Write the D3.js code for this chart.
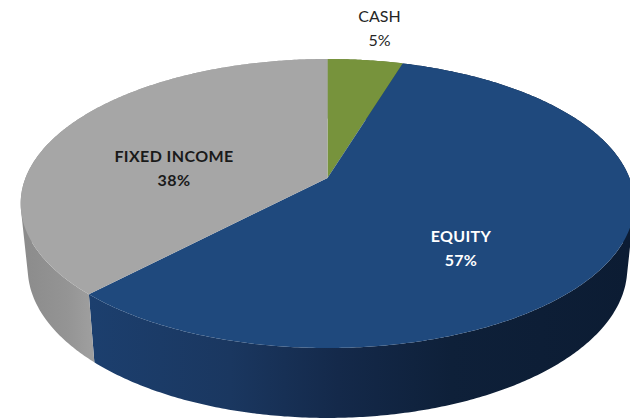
<!DOCTYPE html>
<html>
<head>
<meta charset="utf-8">
<script src="https://cdnjs.cloudflare.com/ajax/libs/d3/7.8.5/d3.min.js"></script>
<style>
  html, body { margin: 0; padding: 0; background: #fff; }
  svg { display: block; }
  text { font-family: Lato, "Open Sans", sans-serif; text-anchor: middle; }
</style>
</head>
<body>
<div id="chart"></div>
<script>
const categories = ["CASH", "EQUITY", "FIXED INCOME"];
// the labels are the rounded numbers
const values = [4.7, 57.4, 37.9];
const labels = ["5%", "57%", "38%"];
const topColors = ["#77933c", "#1f497d", "#a6a6a6"];

const w = 630, h = 419;
const svg = d3.select("#chart").append("svg").attr("width", w).attr("height", h);

// perspective of the tilted disc, apex of the slices is not the middle of the ellipse
const apexX = 327.5, apexY = 178;
const scaleX = 302, scaleY = 140, persp = -0.1765;
// bottom disc is the top one moved down and a bit narrower
const bottomScaleX = 0.977, bottomScaleY = 1.036, bottomShift = 57.4;

function topPoint(a) {
    const x = Math.sin(a), v = -Math.cos(a);
    const d = 1 + persp * v;
    return [apexX + scaleX * x / d, apexY + scaleY * v / d];
}
function bottomPoint(a) {
    const p = topPoint(a);
    return [apexX + (p[0] - apexX) * bottomScaleX, bottomShift + p[1] * bottomScaleY];
}
function rim(start, end, fn) {
    const n = Math.ceil((end - start) / 0.01);
    return d3.range(n + 1).map(i => fn(start + (end - start) * i / n));
}

const pie = d3.pie().sort(null).value(d => d);
const slices = pie(values);
const line = d3.line().curve(d3.curveLinear);

const defs = svg.append("defs");
const navyWall = defs.append("linearGradient").attr("id", "navyWall")
    .attr("gradientUnits", "userSpaceOnUse")
    .attr("x1", 90).attr("x2", 630).attr("y1", 0).attr("y2", 0);
[[0, "#1c3f6e"], [0.26, "#1a3760"], [0.46, "#14294a"], [0.67, "#0e2039"], [1, "#0c1c33"]]
    .forEach(s => navyWall.append("stop").attr("offset", s[0]).attr("stop-color", s[1]));
const grayWall = defs.append("linearGradient").attr("id", "grayWall")
    .attr("gradientUnits", "userSpaceOnUse")
    .attr("x1", 25).attr("x2", 95).attr("y1", 0).attr("y2", 0);
[[0, "#8c8c8c"], [0.6, "#949494"], [1, "#a0a0a0"]]
    .forEach(s => grayWall.append("stop").attr("offset", s[0]).attr("stop-color", s[1]));
const wallFill = ["#5f7530", "url(#navyWall)", "url(#grayWall)"];

// wall as many small quads in one path, all wound the same way so the
// silhouette between the two discs gets filled as well
function wallPath(d) {
    const upper = rim(d.startAngle, d.endAngle, topPoint);
    const lower = rim(d.startAngle, d.endAngle, bottomPoint);
    let path = "";
    for (let i = 0; i < upper.length - 1; i++) {
        const quad = [upper[i], upper[i + 1], lower[i + 1], lower[i]];
        if (d3.polygonArea(quad) < 0) quad.reverse();
        path += line(quad) + "Z";
    }
    return path;
}

// side walls first, the top faces cover the hidden back part
svg.append("g").selectAll("path")
    .data(slices)
    .enter().append("path")
    .attr("d", wallPath)
    .attr("fill", (d, i) => wallFill[i]);

svg.append("g").selectAll("path")
    .data(slices)
    .enter().append("path")
    .attr("d", d => line([[apexX, apexY]].concat(rim(d.startAngle, d.endAngle, topPoint))) + "Z")
    .attr("fill", (d, i) => topColors[i]);

// label spots, name line then percent line
const labelPos = [[379.5, 22, 46], [461, 241.5, 266], [174, 162, 186]];
const labelStyle = [
    { fill: "#262626", weight: 400, spacing: 0 },
    { fill: "#ffffff", weight: 700, spacing: 0.3 },
    { fill: "#1a1a1a", weight: 700, spacing: 0.4 }
];
categories.forEach((c, i) => {
    [[c, labelPos[i][1]], [labels[i], labelPos[i][2]]].forEach(t => {
        svg.append("text").attr("x", labelPos[i][0]).attr("y", t[1])
            .attr("font-size", 16).attr("font-weight", labelStyle[i].weight)
            .attr("letter-spacing", labelStyle[i].spacing)
            .attr("fill", labelStyle[i].fill).text(t[0]);
    });
});
</script>
</body>
</html>
